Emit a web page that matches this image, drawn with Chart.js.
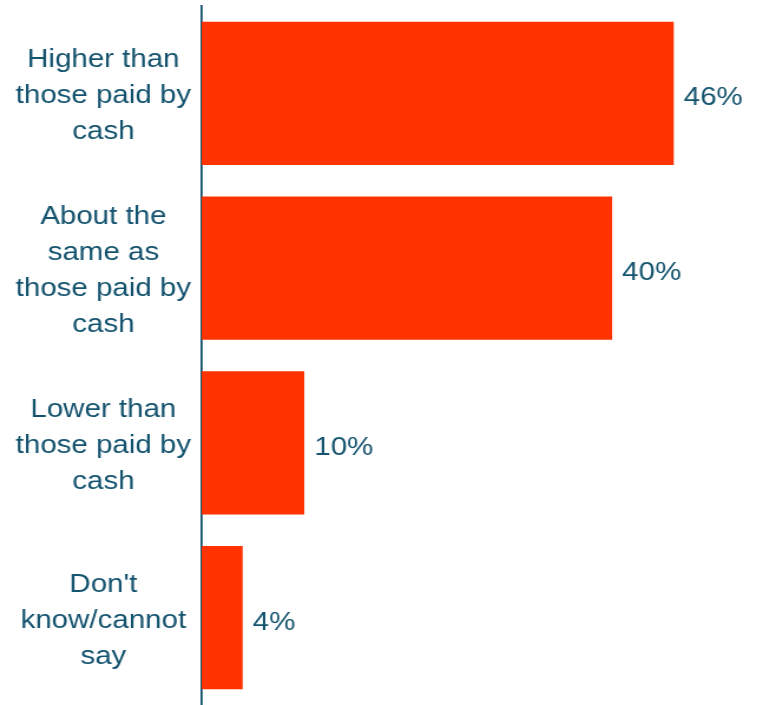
<!DOCTYPE html>
<html>
<head>
<meta charset="utf-8">
<script src="https://cdn.jsdelivr.net/npm/chart.js@4/dist/chart.umd.min.js"></script>
<style>
  html, body { margin: 0; padding: 0; background: #fff; overflow: hidden; }
  /* drawn at 647 wide, shown at 763 wide (text comes out a bit wider) */
  #wrap { width: 647px; height: 705px; transform: scaleX(1.1793); transform-origin: 0 0; }
</style>
</head>
<body>
<div id="wrap"><canvas id="fareChart" width="647" height="705"></canvas></div>
<script>
// ——— Data ———
const categories = [
  ['Higher than', 'those paid by', 'cash'],
  ['About the', 'same as', 'those paid by', 'cash'],
  ['Lower than', 'those paid by', 'cash'],
  ["Don't", 'know/cannot', 'say']
];
const shares = [46, 40, 10, 4];

const TEAL = '#14536E';
const BAR = '#FF3300';
const FONT = { family: 'Arial, "Liberation Sans", sans-serif', size: 25, lineHeight: 1.44 };

// ——— Value labels just past the bar ends ———
const valueLabels = {
  id: 'valueLabels',
  afterDatasetsDraw(chart) {
    const ctx = chart.ctx;
    const meta = chart.getDatasetMeta(0);
    ctx.save();
    ctx.font = `${FONT.size}px ${FONT.family}`;
    ctx.fillStyle = TEAL;
    ctx.textAlign = 'left';
    ctx.textBaseline = 'middle';
    meta.data.forEach((bar, i) => {
      ctx.fillText(shares[i] + '%', bar.x + 8.5, bar.y + 5);
    });
    ctx.restore();
  }
};

new Chart(document.getElementById('fareChart').getContext('2d'), {
  type: 'bar',
  data: {
    labels: categories,
    datasets: [{
      data: shares,
      backgroundColor: BAR,
      borderWidth: 0,
      categoryPercentage: 1,
      barPercentage: 0.82
    }]
  },
  options: {
    indexAxis: 'y',
    responsive: false,
    animation: false,
    devicePixelRatio: 1,
    layout: { padding: { top: 6, right: 0, bottom: -1, left: 0 } },
    plugins: { legend: { display: false }, tooltip: { enabled: false } },
    scales: {
      x: {
        display: false,
        min: 0,
        max: 54.7
      },
      y: {
        afterFit(scale) {
          // fixed label column; no extra room reserved for the tall labels
          scale.width = 171;
          scale.paddingTop = 0;
          scale.paddingBottom = 0;
        },
        grid: { display: false, drawTicks: false },
        border: { display: true, color: TEAL, width: 1.8 },
        ticks: {
          color: TEAL,
          font: FONT,
          crossAlign: 'center',
          padding: 9,
          labelOffset: 3
        }
      }
    }
  },
  plugins: [valueLabels]
});
</script>
</body>
</html>
